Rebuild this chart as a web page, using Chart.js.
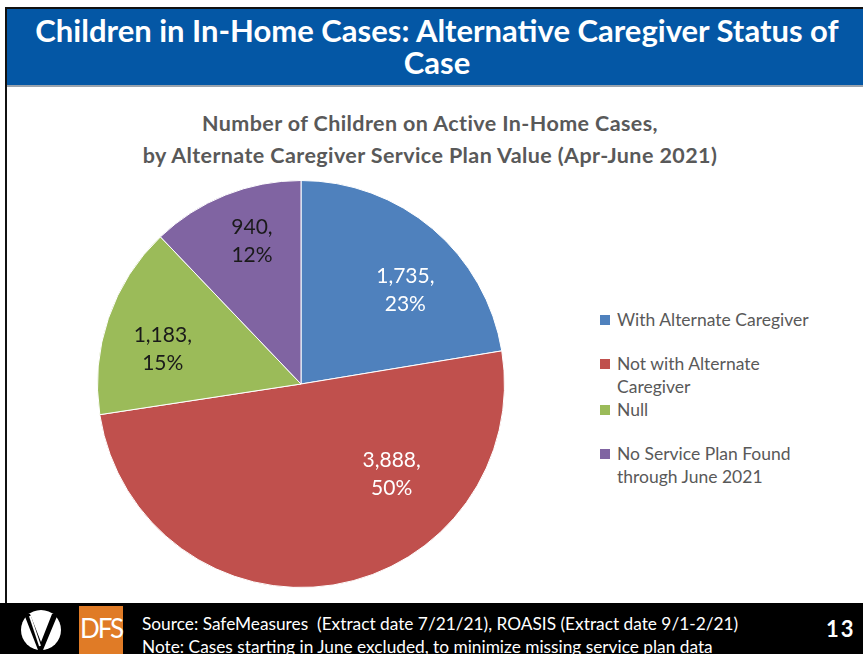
<!DOCTYPE html>
<html>
<head>
<meta charset="utf-8">
<script src="https://cdn.jsdelivr.net/npm/chart.js@4.4.1/dist/chart.umd.min.js"></script>
<style>
    body { margin: 0; background: #fff; font-family: Lato, "Open Sans", sans-serif; }
    #slide { position: relative; width: 863px; height: 654px; overflow: hidden; background: #fff; }
    #frame { position: absolute; left: 5px; top: 7px; width: 870px; height: 700px; border: 2px solid #111; box-sizing: border-box; }
    #header { position: absolute; left: 7px; top: 9px; width: 860px; height: 78px; background: #0457a5; border-bottom: 2px solid #9aa3ad;
        color: #fff; font-weight: bold; font-size: 31px; line-height: 32px; text-align: center; padding-top: 5px; box-sizing: border-box; }
    #subtitle { position: absolute; left: 80px; top: 107px; width: 700px; text-align: center; color: #595959; font-weight: bold; font-size: 21.5px; letter-spacing: 0.4px; line-height: 32px; }
    #pieWrap { position: absolute; left: 95px; top: 178px; width: 412px; height: 412px; }
    #legend { position: absolute; left: 600px; top: 308px; width: 260px; color: #595959; font-size: 17.5px; line-height: 23px; }
    .item { position: relative; padding-left: 17px; }
    .sw { position: absolute; left: 0; top: 7px; width: 10px; height: 10px; }
    #footer { position: absolute; left: 0; top: 603px; width: 863px; height: 51px; background: #000; color: #fff; }
    #src { position: absolute; left: 142px; top: 9px; font-size: 17.3px; line-height: 23px; white-space: nowrap; }
    #page { position: absolute; left: 826px; top: 12px; font-size: 22px; font-weight: bold; letter-spacing: 2px; }
    #dfs { position: absolute; left: 79px; top: 3px; width: 44px; height: 48px; background: #e07b26; color: #fff; font-size: 26px; line-height: 44px; text-align: center; letter-spacing: -2px; }
</style>
</head>
<body>
<div id="slide">
    <div id="frame"></div>
    <div id="header">Children in In-Home Cases: Alternative Caregiver Status of<br>Case</div>
    <div id="subtitle">Number of Children on Active In-Home Cases,<br>by Alternate Caregiver Service Plan Value (Apr-June 2021)</div>
    <div id="pieWrap"><canvas id="pie" width="412" height="412"></canvas></div>
    <div id="legend"></div>
    <div id="footer">
        <svg style="position:absolute;left:18px;top:5px" width="46" height="44" viewBox="0 0 46 44">
            <circle cx="23" cy="22" r="20" fill="#fff"/>
            <path d="M6 6 L20 42 L25 42 L40 6 L34 6 L23 34 L12 6 Z" fill="#000"/>
            <path d="M12 8 L22 38" stroke="#fff" stroke-width="2"/>
        </svg>
        <div id="dfs">DFS</div>
        <div id="src">Source: SafeMeasures&nbsp; (Extract date 7/21/21), ROASIS (Extract date 9/1-2/21)<br>Note: Cases starting in June excluded, to minimize missing service plan data</div>
        <div id="page">13</div>
    </div>
</div>
<script>
const categories = ["With Alternate Caregiver", "Not with Alternate Caregiver", "Null", "No Service Plan Found through June 2021"];
const legendLines = [["With Alternate Caregiver"], ["Not with Alternate", "Caregiver"], ["Null"], ["No Service Plan Found", "through June 2021"]];
const counts = [1735, 3888, 1183, 940];
const percentLabels = ["23%", "50%", "15%", "12%"];
const colors = ["#4f81bd", "#c0504d", "#9bbb59", "#8064a2"];
const labelColors = ["#ffffff", "#ffffff", "#1a1a1a", "#1a1a1a"];
// label placement as [angle in degrees from 3 o'clock, fraction of radius]
const labelPlacement = [[-42, 0.69], [45, 0.63], [-166, 0.70], [-109, 0.74]];

// legend
const legendEl = document.getElementById("legend");
legendLines.forEach((lines, i) => {
    const d = document.createElement("div");
    d.className = "item";
    d.style.marginBottom = lines.length > 1 ? "0px" : "21px";
    d.innerHTML = '<span class="sw" style="background:' + colors[i] + '"></span>' + lines.join("<br>");
    legendEl.appendChild(d);
});

const sliceLabels = {
    id: "sliceLabels",
    afterDatasetsDraw(chart) {
        const ctx = chart.ctx;
        const meta = chart.getDatasetMeta(0);
        ctx.save();
        ctx.font = "21px Lato, sans-serif";
        ctx.textAlign = "center";
        ctx.textBaseline = "middle";
        meta.data.forEach((arc, i) => {
            const a = labelPlacement[i][0] * Math.PI / 180;
            const r = arc.outerRadius * labelPlacement[i][1];
            const x = arc.x + Math.cos(a) * r;
            const y = arc.y + Math.sin(a) * r;
            ctx.fillStyle = labelColors[i];
            ctx.fillText(counts[i].toLocaleString("en-US") + ",", x, y - 14);
            ctx.fillText(percentLabels[i], x, y + 14);
        });
        ctx.restore();
    }
};

new Chart(document.getElementById("pie"), {
    type: "pie",
    data: {
        labels: categories,
        datasets: [{
            data: counts,
            backgroundColor: colors,
            borderColor: "#ffffff",
            borderWidth: 1
        }]
    },
    options: {
        responsive: false,
        animation: false,
        layout: { padding: 2 },
        plugins: {
            legend: { display: false },
            tooltip: { enabled: false }
        }
    },
    plugins: [sliceLabels]
});
</script>
</body>
</html>
